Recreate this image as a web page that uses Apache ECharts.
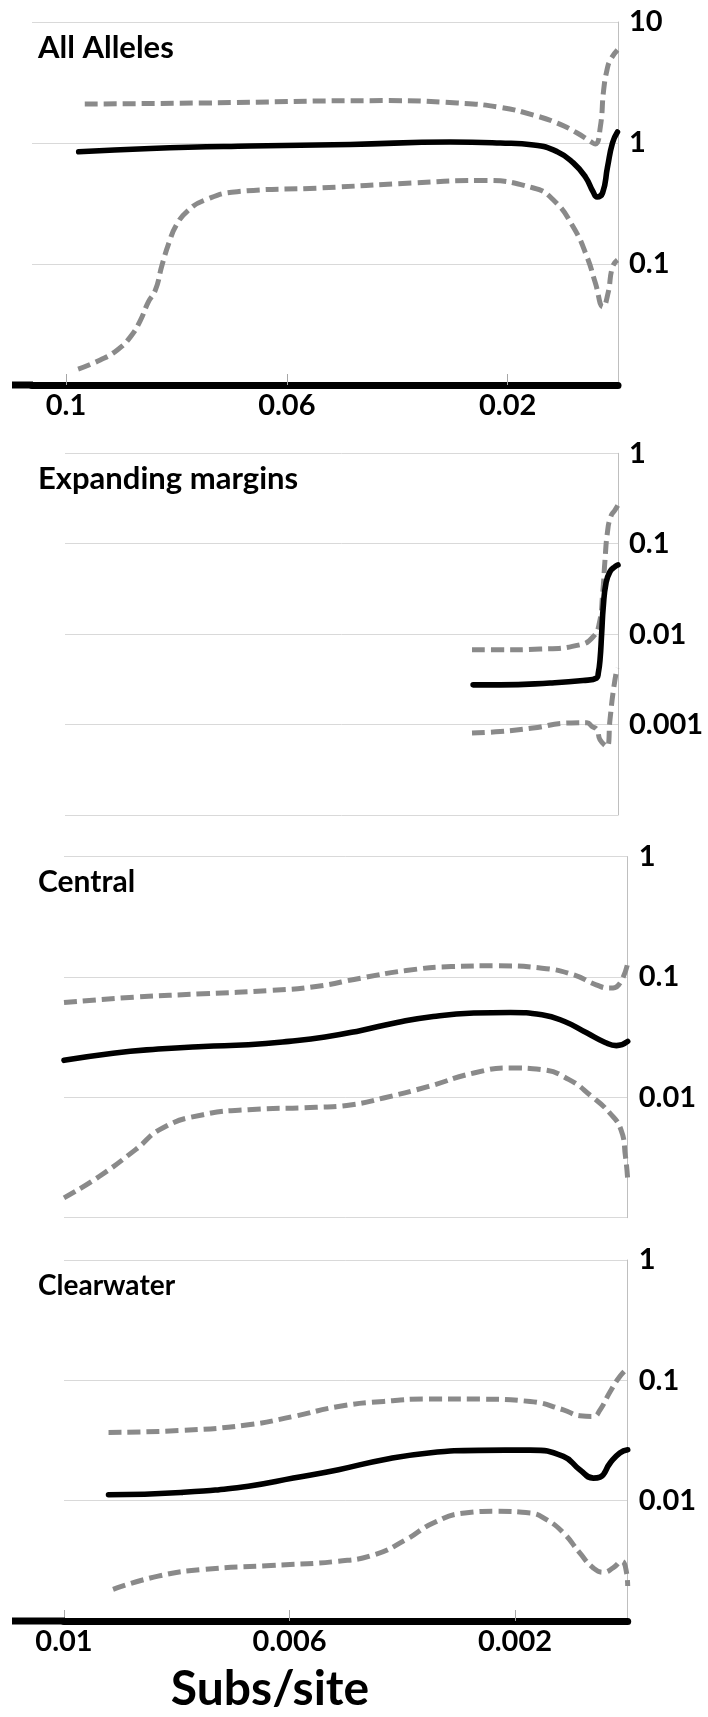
<!DOCTYPE html>
<html>
<head>
<meta charset="utf-8">
<script src="https://cdn.jsdelivr.net/npm/echarts@6/dist/echarts.min.js"></script>
<style>
  html, body { margin: 0; padding: 0; background: #fff; }
  #chart { width: 708px; height: 1717px; }
</style>
</head>
<body>
<div id="chart"></div>
<script>
// ---- Panel titles and axis text ----
const panelTitles = ['All Alleles', 'Expanding margins', 'Central', 'Clearwater'];
const xAxisName = 'Subs/site';

// x tick values (axis runs right-to-left, 0 at the right edge)
const allAllelesXTicks = [0.1, 0.06, 0.02];
const subsXTicks = [0.01, 0.006, 0.002];

// y tick labels that are printed on each panel's right axis
const allAllelesYLabels = ['10', '1', '0.1'];
const marginsYLabels = ['1', '0.1', '0.01', '0.001'];
const centralYLabels = ['1', '0.1', '0.01'];
const clearwaterYLabels = ['1', '0.1', '0.01'];

// ---- All Alleles ----
const allMeanX  = [0.0977, 0.0847, 0.0666, 0.0485, 0.0304, 0.0213, 0.0153, 0.0110, 0.0081, 0.0059, 0.0045, 0.0038, 0.0028, 0.0019, 0.0010, 0.0001];
const allMeanY  = [0.847, 0.901, 0.944, 0.972, 1.02, 1.0, 0.963, 0.847, 0.684, 0.524, 0.394, 0.358, 0.386, 0.633, 1.0, 1.233];
const allUpperX = [0.0966, 0.0757, 0.0425, 0.0291, 0.0213, 0.0153, 0.0110, 0.0074, 0.0050, 0.0041, 0.0032, 0.0026, 0.0020, 0.0014, 0.0001];
const allUpperY = [2.10, 2.14, 2.24, 2.14, 1.97, 1.70, 1.46, 1.21, 1.03, 0.98, 1.36, 2.74, 4.0, 4.85, 5.87];
const allLowerX = [0.0978, 0.0938, 0.0907, 0.0883, 0.0865, 0.0851, 0.0838, 0.0826, 0.0813, 0.0800, 0.0780, 0.0748, 0.0690, 0.0539, 0.0374, 0.0249, 0.0153, 0.0117, 0.0081, 0.0056, 0.0041, 0.0027, 0.0018, 0.0010, 0.0001];
const allLowerY = [0.0135, 0.0161, 0.0195, 0.0251, 0.0344, 0.0485, 0.061, 0.098, 0.152, 0.210, 0.274, 0.338, 0.396, 0.425, 0.467, 0.490, 0.425, 0.338, 0.202, 0.114, 0.0697, 0.0441, 0.0576, 0.0944, 0.108];

// ---- Expanding margins ----
const marMeanX  = [0.00262, 0.00213, 0.00123, 0.000633, 0.000385, 0.000356, 0.000325, 0.000295, 0.000266, 0.000217, 0.000145, 0.000054, 0];
const marMeanY  = [0.00275, 0.00275, 0.00288, 0.00307, 0.00327, 0.00371, 0.0052, 0.0103, 0.0202, 0.0366, 0.0492, 0.0558, 0.0583];
const marUpperX = [0.00264, 0.00213, 0.00141, 0.000687, 0.000447, 0.000338, 0.000277, 0.000235, 0.000193, 0.000132, 0.000054, 0];
const marUpperY = [0.00671, 0.00671, 0.00683, 0.00762, 0.0094, 0.0132, 0.0284, 0.0662, 0.131, 0.199, 0.236, 0.268];
const marLowerX = [0.00264, 0.00213, 0.00154, 0.00092, 0.00056, 0.00047, 0.00038, 0.000325, 0.000199, 0.000145, 0.00009, 0.000018];
const marLowerY = [0.000805, 0.000839, 0.000915, 0.00104, 0.00105, 0.000953, 0.000877, 0.00068, 0.000573, 0.00113, 0.00224, 0.00424];

// ---- Central ----
const cenMeanX  = [0.01, 0.00913, 0.00833, 0.00753, 0.00673, 0.00601, 0.00537, 0.00473, 0.00409, 0.00345, 0.00273, 0.00208, 0.00152, 0.00112, 0.00072, 0.0004, 0.0002, 0];
const cenMeanY  = [0.0203, 0.0233, 0.0252, 0.0265, 0.0274, 0.0292, 0.0317, 0.0360, 0.0419, 0.0470, 0.0502, 0.0508, 0.0486, 0.0427, 0.0342, 0.0286, 0.0269, 0.0292];
const cenUpperX = [0.01, 0.00873, 0.00753, 0.00633, 0.00553, 0.00473, 0.00393, 0.00313, 0.00233, 0.00152, 0.00096, 0.00056, 0.00032, 0.00016, 0];
const cenUpperY = [0.0614, 0.0681, 0.0726, 0.0773, 0.0834, 0.098, 0.1132, 0.1222, 0.1239, 0.1185, 0.1043, 0.0861, 0.0809, 0.0861, 0.1303];
const cenLowerX = [0.01, 0.00937, 0.00873, 0.00825, 0.00753, 0.00673, 0.00553, 0.00489, 0.00433, 0.00353, 0.00273, 0.00208, 0.00152, 0.00104, 0.00064, 0.00032, 0.00012, 0.00004, 0];
const cenLowerY = [0.00146, 0.00221, 0.00368, 0.00557, 0.00718, 0.00790, 0.00826, 0.00869, 0.00988, 0.01233, 0.01595, 0.01755, 0.01698, 0.01403, 0.01019, 0.00743, 0.0054, 0.00324, 0.00207];

// ---- Clearwater ----
const clwMeanX  = [0.00921, 0.00793, 0.00673, 0.00593, 0.00513, 0.00433, 0.00353, 0.00262, 0.00173, 0.00114, 0.00085, 0.00061, 0.00049, 0.00031, 0.00014, 0];
const clwMeanY  = [0.0112, 0.0117, 0.0132, 0.0154, 0.0181, 0.0219, 0.0249, 0.0262, 0.0263, 0.0233, 0.0181, 0.0154, 0.0157, 0.0206, 0.0249, 0.0265];
const clwUpperX = [0.00921, 0.00793, 0.00673, 0.00593, 0.00513, 0.00433, 0.00353, 0.00262, 0.00173, 0.00114, 0.00085, 0.00061, 0.00049, 0.00031, 0.00014, 0];
const clwUpperY = [0.0369, 0.0383, 0.0427, 0.0501, 0.0606, 0.0668, 0.0699, 0.0698, 0.0667, 0.0569, 0.0508, 0.0501, 0.0569, 0.0807, 0.1075, 0.1262];
const clwLowerX = [0.00913, 0.00833, 0.00753, 0.00633, 0.00513, 0.00449, 0.00393, 0.00345, 0.00289, 0.00233, 0.00173, 0.00144, 0.00114, 0.00085, 0.00061, 0.00043, 0.00026, 0.00011, 0.00002, 0];
const clwLowerY = [0.00183, 0.00236, 0.00268, 0.00289, 0.00314, 0.00356, 0.00475, 0.00653, 0.0079, 0.00815, 0.0079, 0.00695, 0.0054, 0.00368, 0.00276, 0.00254, 0.00276, 0.00313, 0.00251, 0.00195];

// ---- styling ----
const FONT = 'Lato, "Liberation Sans", sans-serif';
const GRID_COLOR = '#d9d9d9';
const AXIS_COLOR = '#bfbfbf';
const DASH_COLOR = '#8a8a8a';

const zip = (xs, ys) => xs.map((x, i) => [x, ys[i]]);

// grid boxes
const grids = [
  { left: 32, top: 22,    width: 586,   height: 363 },
  { left: 65, top: 453.3, width: 553,   height: 361.7 },
  { left: 64, top: 856.7, width: 563.7, height: 361 },
  { left: 64, top: 1260,  width: 563.7, height: 361 }
];

const yRanges = [[0.01, 10], [0.0001, 1], [0.001, 1], [0.001, 1]];
const yLabelSets = [allAllelesYLabels, marginsYLabels, centralYLabels, clearwaterYLabels];
const xMax = [0.10616, 0.01, 0.01, 0.01];
const xTickSets = [allAllelesXTicks, null, null, subsXTicks];

const labelFont = { fontFamily: FONT, fontWeight: 'bold', fontSize: 29, color: '#000' };

const xAxes = grids.map((g, i) => {
  const ticks = xTickSets[i];
  return {
    gridIndex: i,
    type: 'value',
    inverse: true,
    min: 0,
    max: xMax[i],
    show: !!ticks,
    splitLine: { show: false },
    axisLine: { show: !!ticks, onZero: false, lineStyle: { color: '#000', width: 7 } },
    axisTick: ticks ? { show: true, inside: true, length: 11, customValues: ticks,
                        lineStyle: { color: '#a6a6a6', width: 1 } } : { show: false },
    axisLabel: ticks ? Object.assign({ show: true, margin: 6, customValues: ticks,
                        formatter: v => String(v) }, labelFont) : { show: false }
  };
});

const yAxes = grids.map((g, i) => {
  const labels = yLabelSets[i];
  return {
    gridIndex: i,
    type: 'log',
    logBase: 10,
    min: yRanges[i][0],
    max: yRanges[i][1],
    position: 'right',
    axisLine: { show: true, lineStyle: { color: AXIS_COLOR, width: 1 } },
    axisTick: { show: false },
    minorTick: { show: false },
    splitLine: { show: true, lineStyle: { color: GRID_COLOR, width: 1 } },
    axisLabel: Object.assign({
      margin: 11,
      formatter: v => {
        const s = String(Number(Number(v).toPrecision(1)));
        return labels.includes(s) ? s : '';
      }
    }, labelFont)
  };
});

function meanSeries(idx, xs, ys) {
  return {
    type: 'line', xAxisIndex: idx, yAxisIndex: idx,
    data: zip(xs, ys), showSymbol: false, symbol: 'none',
    smooth: 0.5,
    lineStyle: { color: '#000', width: 5.6, cap: 'round', join: 'round' }, z: 3
  };
}
function boundSeries(idx, xs, ys) {
  return {
    type: 'line', xAxisIndex: idx, yAxisIndex: idx,
    data: zip(xs, ys), showSymbol: false, symbol: 'none',
    smooth: 0.5,
    lineStyle: { color: DASH_COLOR, width: 5, type: [13, 6], cap: 'butt', join: 'round' }, z: 2
  };
}

const series = [
  boundSeries(0, allUpperX, allUpperY), boundSeries(0, allLowerX, allLowerY), meanSeries(0, allMeanX, allMeanY),
  boundSeries(1, marUpperX, marUpperY), boundSeries(1, marLowerX, marLowerY), meanSeries(1, marMeanX, marMeanY),
  boundSeries(2, cenUpperX, cenUpperY), boundSeries(2, cenLowerX, cenLowerY), meanSeries(2, cenMeanX, cenMeanY),
  boundSeries(3, clwUpperX, clwUpperY), boundSeries(3, clwLowerX, clwLowerY), meanSeries(3, clwMeanX, clwMeanY)
];

// panel title positions (left, vertical centre)
const titlePos = [[38, 48], [38, 479], [38, 882], [38, 1286]];
const titleSizes = [31, 31, 30, 28];

const graphic = panelTitles.map((t, i) => ({
  type: 'text', x: titlePos[i][0], y: titlePos[i][1], z: 10,
  style: { text: t, fontFamily: FONT, fontWeight: 'bold', fontSize: titleSizes[i], fill: '#000',
           textAlign: 'left', textVerticalAlign: 'middle' }
}));
graphic.push({
  type: 'text', x: 270, y: 1690, z: 10,
  style: { text: xAxisName, fontFamily: FONT, fontWeight: 'bold', fontSize: 48, fill: '#000',
           textAlign: 'center', textVerticalAlign: 'middle' }
});
// the heavy baseline continues a little past the left edge of the plot
[0, 3].forEach(i => {
  const g = grids[i];
  graphic.push({
    type: 'rect', z: 5,
    shape: { x: 12, y: g.top + g.height - 3.5, width: g.left - 12 + 1, height: 7 },
    style: { fill: '#000' }
  });
});

const chart = echarts.init(document.getElementById('chart'), null, { renderer: 'canvas' });
chart.setOption({
  backgroundColor: '#fff',
  animation: false,
  grid: grids.map(g => Object.assign({ containLabel: false }, g)),
  xAxis: xAxes,
  yAxis: yAxes,
  series: series,
  graphic: graphic
});
</script>
</body>
</html>
